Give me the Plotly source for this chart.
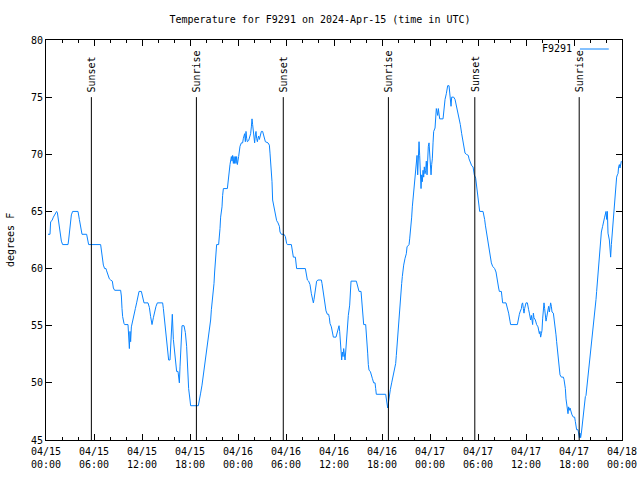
import plotly.graph_objects as go

# ---- data (hours since 2024-04-15 00:00 UTC, degrees F) ----
hours = [
    0.25, 0.5, 0.58, 0.75, 0.92, 1.08, 1.25, 1.33, 1.42, 1.58, 1.75, 1.92, 2.08, 2.75, 2.83, 3.0, 3.17, 3.33,
    4.0, 4.17, 4.33, 4.5, 5.08, 5.17, 5.25, 5.33, 6.83, 6.92, 7.04, 7.17, 7.33, 7.5, 7.58, 7.75, 7.92, 8.08,
    8.29, 8.42, 8.58, 9.33, 9.42, 9.5, 9.58, 9.75, 9.83, 10.25, 10.33, 10.42, 10.5, 10.58, 10.67, 10.83, 11.0,
    11.17, 11.33, 11.5, 11.63, 11.92, 12.08, 12.25, 12.75, 12.92, 13.08, 13.25, 13.42, 13.58, 13.75, 13.92,
    14.58, 14.67, 14.83, 15.0, 15.17, 15.25, 15.33, 15.5, 15.58, 15.71, 15.79, 15.92, 16.08, 16.25, 16.33,
    16.5, 16.58, 16.67, 16.75, 16.83, 16.92, 17.0, 17.25, 17.42, 17.58, 17.67, 17.75, 17.83, 18.0, 18.08,
    19.04, 19.17, 19.33, 19.5, 19.67, 19.83, 19.92, 20.08, 20.25, 20.42, 20.58, 20.67, 20.83, 21.0, 21.08,
    21.25, 21.33, 21.58, 21.67, 21.75, 21.83, 22.0, 22.08, 22.17, 22.67, 22.75, 22.92, 23.0, 23.17, 23.25,
    23.33, 23.42, 23.5, 23.58, 23.67, 23.75, 23.83, 23.92, 24.08, 24.17, 24.25, 24.42, 24.58, 24.67, 24.83,
    24.92, 25.0, 25.08, 25.17, 25.33, 25.42, 25.58, 25.67, 25.75, 25.83, 25.92, 26.0, 26.08, 26.17, 26.25,
    26.33, 26.42, 26.5, 26.58, 26.67, 26.75, 26.83, 26.92, 27.08, 27.25, 27.42, 27.75, 27.92, 28.0, 28.08,
    28.17, 28.25, 28.33, 28.42, 28.58, 28.67, 28.83, 29.0, 29.17, 29.25, 29.42, 29.75, 29.92, 30.08, 30.17,
    30.67, 30.75, 30.92, 31.17, 31.25, 31.33, 32.42, 32.5, 32.67, 32.83, 33.0, 33.17, 33.33, 33.42, 33.5,
    33.67, 33.75, 33.83, 34.0, 34.42, 34.5, 34.58, 34.75, 34.83, 34.92, 35.0, 35.17, 35.33, 35.42, 35.5,
    35.67, 35.75, 35.83, 35.92, 36.25, 36.46, 36.63, 36.71, 36.79, 36.88, 36.96, 37.04, 37.13, 37.21, 37.29,
    37.38, 37.46, 37.54, 37.63, 37.71, 37.79, 37.96, 38.04, 38.13, 38.79, 38.96, 39.13, 39.38, 39.46, 39.63,
    39.71, 39.96, 40.04, 40.13, 40.21, 40.29, 40.38, 40.54, 40.71, 40.79, 40.96, 41.13, 41.21, 41.29, 42.46,
    42.54, 42.63, 42.71, 42.79, 42.88, 43.04, 43.21, 43.38, 43.54, 43.71, 43.79, 43.88, 43.96, 44.04, 44.13,
    44.21, 44.29, 44.38, 44.46, 44.54, 44.63, 44.71, 44.88, 45.04, 45.13, 45.38, 45.46, 45.54, 45.63, 45.71,
    45.79, 45.88, 45.96, 46.04, 46.13, 46.21, 46.29, 46.38, 46.46, 46.54, 46.63, 46.71, 46.79, 46.88, 46.96,
    47.04, 47.13, 47.21, 47.29, 47.38, 47.46, 47.54, 47.63, 47.71, 47.79, 47.88, 47.96, 48.04, 48.13, 48.21,
    48.29, 48.38, 48.46, 48.63, 48.71, 48.79, 48.88, 48.96, 49.04, 49.13, 49.21, 49.63, 49.71, 49.79, 49.88,
    50.04, 50.13, 50.21, 50.38, 50.46, 50.54, 50.63, 50.71, 50.96, 51.13, 51.29, 51.46, 51.54, 51.71, 51.79,
    51.96, 52.04, 52.13, 52.29, 52.38, 52.54, 52.79, 52.88, 53.04, 53.21, 53.38, 53.46, 53.54, 53.71, 53.79,
    53.88, 54.04, 54.13, 54.21, 54.63, 54.75, 54.83, 54.92, 55.0, 55.17, 55.25, 55.33, 55.5, 55.58, 55.67,
    55.83, 56.08, 56.25, 56.33, 56.42, 56.58, 56.67, 56.92, 57.0, 57.08, 57.5, 57.58, 57.67, 57.83, 58.0,
    58.08, 58.92, 59.0, 59.17, 59.25, 59.42, 59.5, 59.58, 59.67, 59.75, 59.83, 60.0, 60.17, 60.25, 60.33,
    60.42, 60.5, 60.58, 60.67, 60.75, 60.83, 60.92, 61.0, 61.17, 61.25, 61.33, 61.5, 61.58, 61.67, 61.75,
    61.83, 61.92, 62.0, 62.08, 62.17, 62.25, 62.33, 62.42, 62.5, 62.58, 62.67, 62.75, 62.83, 62.92, 63.0,
    63.08, 63.17, 63.25, 63.42, 63.5, 63.58, 63.67, 63.75, 63.83, 63.92, 64.0, 64.08, 64.17, 64.25, 64.42,
    64.67, 64.75, 64.83, 64.92, 65.0, 65.08, 65.17, 65.25, 65.33, 65.42, 65.5, 65.58, 65.75, 65.92, 66.08,
    66.17, 66.25, 66.33, 66.5, 66.58, 66.67, 66.75, 66.83, 66.92, 67.0, 67.08, 67.17, 67.25, 67.33, 67.42,
    67.5, 67.58, 67.67, 67.75, 67.83, 67.92, 68.0, 68.17, 68.25, 68.33, 68.5, 68.58, 68.67, 68.75, 68.83,
    68.92, 69.0, 69.08, 69.17, 69.25, 69.33, 69.42, 69.58, 69.67, 69.83, 70.0, 70.08, 70.17, 70.25, 70.42,
    70.5, 70.58, 70.67, 70.75, 70.83, 70.92, 71.0, 71.08, 71.17, 71.25, 71.33, 71.42, 71.5, 71.58, 71.67,
    71.75, 71.83, 71.92,
]
temps_f = [
    63.0, 63.0, 64.1, 64.2, 64.5, 64.7, 64.9, 65.0, 64.9, 64.0, 63.3, 62.4, 62.1, 62.1, 62.5, 63.8, 64.7, 65.0,
    65.0, 64.3, 63.5, 63.0, 63.0, 62.7, 62.2, 62.1, 62.1, 61.6, 60.9, 60.3, 60.0, 60.0, 59.8, 59.4, 59.1, 59.0,
    58.9, 58.3, 58.1, 58.1, 57.6, 56.5, 55.8, 55.2, 55.1, 55.1, 54.4, 53.0, 54.5, 53.6, 54.9, 55.5, 56.0,
    56.5, 57.0, 57.6, 58.0, 58.0, 57.6, 57.0, 57.0, 56.6, 55.8, 55.1, 55.7, 56.3, 56.7, 57.0,
    57.0, 56.5, 55.5, 54.5, 53.5, 52.5, 52.0, 52.0, 53.0, 55.1, 56.0, 53.8, 52.6, 51.4, 51.0,
    51.0, 50.6, 50.0, 51.4, 52.6, 54.1, 55.0, 55.0, 54.4, 53.2, 51.9, 50.7, 49.5, 48.5, 48.0,
    48.0, 48.4, 49.1, 49.8, 50.7, 51.4, 52.3, 52.9, 53.8, 54.5, 55.5, 56.4, 57.4, 58.7, 59.7,
    61.2, 62.1, 62.1, 62.7, 63.5, 64.5, 65.4, 66.4, 67.0, 67.0, 67.6, 68.3, 69.1, 69.8, 69.4,
    69.9, 69.2, 69.8, 69.2, 69.8, 69.2, 69.8, 69.1, 69.8, 70.2, 70.7, 71.0, 71.0, 71.4, 71.8,
    71.1, 72.0, 71.4, 71.1, 71.2, 71.4, 71.8, 72.4, 73.1, 72.6, 71.8, 71.3, 71.0, 71.7, 72.0,
    71.4, 71.1, 71.4, 71.6, 71.3, 71.5, 71.8, 72.0, 72.0, 71.5, 71.1, 71.0, 70.8, 70.1, 69.4,
    68.5, 67.6, 66.0, 65.6, 65.3, 64.8, 64.2, 64.0, 63.7, 63.2, 63.0, 63.0, 62.8, 62.2, 62.1,
    62.1, 61.6, 61.0, 61.0, 60.6, 60.0, 60.0, 59.7, 59.0, 58.9, 58.6, 57.8, 57.3, 57.0, 57.3,
    58.0, 58.6, 58.9, 59.0, 59.0, 58.7, 58.3, 57.8, 57.3, 56.8, 56.3, 56.0, 56.0, 55.7, 55.2,
    54.9, 54.6, 54.2, 54.0, 54.0, 54.6, 55.0, 54.5, 53.6, 52.7, 52.0, 52.7, 52.3, 53.0, 52.6,
    52.0, 52.7, 53.6, 54.3, 55.2, 55.9, 56.8, 58.0, 58.9, 58.9, 58.5, 58.0, 58.0, 57.1, 55.9,
    55.1, 55.1, 54.5, 53.6, 52.6, 51.6, 51.1, 51.0, 50.7, 50.4, 50.0, 50.0, 49.5, 49.0, 49.0,
    48.7, 48.2, 47.8, 48.2, 48.8, 49.4, 50.0, 50.5, 51.1, 51.7, 52.4, 53.3, 54.2, 55.4, 56.2,
    56.8, 57.4, 58.0, 58.7, 59.3, 59.9, 60.3, 60.9, 61.3, 61.9, 62.1, 62.6, 63.1, 63.7, 64.5,
    65.4, 66.1, 66.7, 67.3, 68.0, 68.6, 69.4, 69.9, 68.2, 70.7, 71.1, 69.9, 67.6, 67.0, 68.2,
    67.6, 68.6, 68.0, 68.9, 68.3, 68.6, 69.4, 68.2, 69.8, 70.7, 71.0, 69.9, 69.1, 68.2, 69.1,
    69.6, 71.0, 72.0, 72.3, 73.1, 74.0, 73.7, 73.4, 74.0, 73.3, 73.1, 73.1, 73.7, 74.3, 74.8,
    75.3, 75.8, 76.0, 76.0, 75.5, 74.8, 74.2, 75.0, 75.0, 74.8, 74.3, 73.9, 73.6, 73.1, 72.6,
    71.8, 71.4, 71.0, 70.5, 70.1, 70.0, 69.9, 69.6, 69.2, 69.0, 68.9, 68.5, 68.2, 67.9, 67.5,
    66.9, 66.3, 65.6, 65.0, 65.0, 64.7, 64.3, 63.8, 63.4, 62.8, 62.2, 61.8, 61.3, 60.8, 60.5,
    60.2, 60.0, 59.7, 59.3, 58.7, 58.3, 58.0, 58.0, 57.5, 57.0, 57.0, 56.8, 56.5, 56.1, 55.4,
    55.1, 55.1, 55.5, 56.0, 56.2, 56.5, 56.9, 57.0, 56.5, 56.1, 56.5, 57.0, 57.0, 56.8, 56.4,
    56.1, 55.9, 55.5, 55.9, 55.4, 55.1, 56.1, 55.7, 55.5, 55.2, 55.1, 54.9, 54.5, 54.3, 54.5,
    54.0, 54.3, 54.6, 55.6, 56.5, 57.0, 56.5, 56.1, 55.4, 55.7, 56.1, 56.4, 56.7, 56.2, 56.5,
    57.0, 56.7, 56.2, 56.1, 55.7, 55.2, 54.9, 54.2, 53.6, 53.0, 52.4, 51.7, 51.3, 50.7, 50.5,
    50.5, 50.3, 50.0, 49.5, 48.6, 48.2, 47.6, 47.3, 47.9, 47.6, 47.8, 47.5, 47.2, 47.0, 47.0,
    46.6, 46.2, 45.9, 45.9, 45.4, 45.2, 45.6, 45.2, 45.6, 46.2, 46.6, 47.3, 47.9, 48.5, 48.8,
    48.9, 49.4, 50.3, 50.8, 51.4, 52.0, 52.6, 53.3, 54.0, 54.5, 55.5, 56.2, 56.8, 57.3, 58.0,
    58.9, 59.6, 60.3, 61.2, 62.1, 62.8, 63.2, 63.7, 64.1, 64.5, 65.0, 64.3, 65.0, 63.1, 62.5,
    61.3, 61.0, 62.1, 62.8, 64.0, 65.0, 65.7, 66.2, 66.9, 67.6, 68.0, 68.2, 68.3, 68.9, 69.1,
    68.8, 69.2, 69.4,
]

sunset_hours = [5.67, 29.66, 53.6]
sunrise_hours = [18.8, 42.8, 66.65]
sun_line_top = 75

x_tickvals = [0, 6, 12, 18, 24, 30, 36, 42, 48, 54, 60, 66, 72]
x_ticktext = ["04/15<br>00:00", "04/15<br>06:00", "04/15<br>12:00", "04/15<br>18:00",
              "04/16<br>00:00", "04/16<br>06:00", "04/16<br>12:00", "04/16<br>18:00",
              "04/17<br>00:00", "04/17<br>06:00", "04/17<br>12:00", "04/17<br>18:00",
              "04/18<br>00:00"]
y_tickvals = [45, 50, 55, 60, 65, 70, 75, 80]

station = "F9291"
title_text = "Temperature for F9291 on 2024-Apr-15 (time in UTC)"
line_color = "#0a84ff"
FONT = "DejaVu Sans Mono"

fig = go.Figure()
fig.add_trace(go.Scatter(x=hours, y=temps_f, mode="lines", name=station,
                         line=dict(color=line_color, width=1), showlegend=False, hoverinfo="skip"))

shapes = []
annotations = []
for h, lab in [(h, "Sunset") for h in sunset_hours] + [(h, "Sunrise") for h in sunrise_hours]:
    shapes.append(dict(type="line", xref="x", yref="y", x0=h, x1=h, y0=45, y1=sun_line_top,
                       line=dict(color="black", width=1)))
    annotations.append(dict(x=h, y=sun_line_top, xref="x", yref="y", text=lab, showarrow=False,
                            textangle=-90, xanchor="center", yanchor="bottom", yshift=3,
                            font=dict(family=FONT, size=10, color="black")))

# legend key (gnuplot style: text, then line sample)
annotations.append(dict(x=0.917, y=0.98, xref="paper", yref="paper", text=station, showarrow=False,
                        xanchor="right", yanchor="middle", font=dict(family=FONT, size=10, color="black")))
shapes.append(dict(type="line", xref="paper", yref="paper", x0=0.927, x1=0.977, y0=0.9775, y1=0.9775,
                   line=dict(color=line_color, width=1)))

annotations.append(dict(x=0, y=0.5, xref="paper", yref="paper", text="degrees F", showarrow=False,
                        textangle=-90, xanchor="center", yanchor="middle", xshift=-36,
                        font=dict(family=FONT, size=10, color="black")))

fig.update_layout(
    width=640, height=480,
    margin=dict(l=46, r=18, t=40, b=40, autoexpand=False),
    paper_bgcolor="white", plot_bgcolor="white",
    font=dict(family=FONT, size=10, color="black"),
    title=dict(text=title_text, x=0.5, xanchor="center", y=1 - 19 / 480, yanchor="middle",
               yref="container", font=dict(family=FONT, size=10, color="black")),
    shapes=shapes, annotations=annotations,
    xaxis=dict(range=[0, 72], tickmode="array", tickvals=x_tickvals, ticktext=x_ticktext,
               automargin=False, ticklabelstandoff=2,
               showgrid=False, zeroline=False, showline=True, linecolor="black", linewidth=1,
               mirror="allticks", ticks="inside", ticklen=6, tickcolor="black",
               minor=dict(dtick=2, tick0=0, ticks="inside", ticklen=3, tickcolor="black", showgrid=False),
               tickfont=dict(family=FONT, size=10, color="black")),
    yaxis=dict(range=[45, 80], tickmode="array", tickvals=y_tickvals,
               automargin=False,
               showgrid=False, zeroline=False, showline=True, linecolor="black", linewidth=1,
               mirror="allticks", ticks="inside", ticklen=6, tickcolor="black",
               tickfont=dict(family=FONT, size=10, color="black")),
)

fig.write_html("out.html", config={"displayModeBar": False},
               post_script="document.body.style.margin='0';")
